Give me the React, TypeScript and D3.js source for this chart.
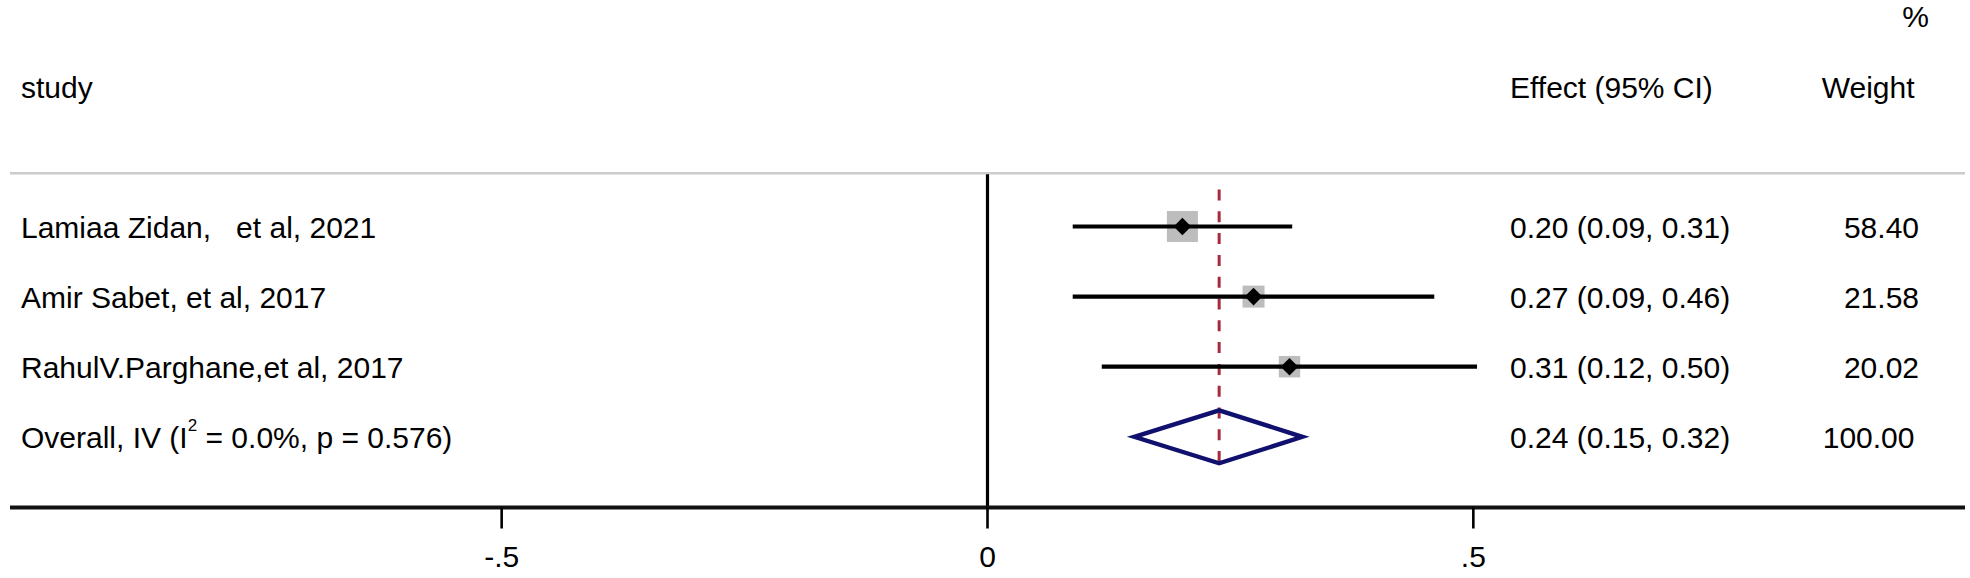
import React from "react";
import * as d3 from "d3";

const studies = ["Lamiaa Zidan,   et al, 2021", "Amir Sabet, et al, 2017", "RahulV.Parghane,et al, 2017"];
const effects = [0.2006, 0.2738, 0.3108];
const lowers = [0.0877, 0.0877, 0.1176];
const uppers = [0.3136, 0.4598, 0.5038];
const weights = [58.4, 21.58, 20.02];
const effectLabels = ["0.20 (0.09, 0.31)", "0.27 (0.09, 0.46)", "0.31 (0.12, 0.50)"];
const weightLabels = ["58.40", "21.58", "20.02"];

const overallEffect = 0.2384;
const overallLower = 0.151;
const overallUpper = 0.324;
const overallEffectLabel = "0.24 (0.15, 0.32)";
const overallWeightLabel = "100.00";

const tickValues = [-0.5, 0, 0.5];
const tickLabels = ["-.5", "0", ".5"];

const W = 1970;
const H = 578;
const FONT = "'Liberation Sans', Arial, Helvetica, sans-serif";

export default function App() {
  const x = d3.scaleLinear().domain([-1.006, 1.006]).range([10, 1965]);
  const y = d3.scaleLinear().domain([0, 3]).range([226.5, 436.8]);
  const size = d3.scalePow().exponent(0.345).domain([0, 58.4]).range([0, 31]);

  const axisY = 507.5;
  const headerY = 98;
  const sepY = 173.3;
  const leftX = 21;
  const effX = 1510;
  const wX = 1919;

  const diamondHalf = 8.8;
  const ovHalfH = 26.5;
  const ovY = y(3);
  const ovPath = d3.line()([
    [x(overallLower), ovY],
    [x(overallEffect), ovY - ovHalfH],
    [x(overallUpper), ovY],
    [x(overallEffect), ovY + ovHalfH],
  ]) + "Z";

  return (
    <svg width={W} height={H} style={{ position: "absolute", left: 0, top: 0, background: "#fff" }} fontFamily={FONT} fontSize={30}>
      <rect x={0} y={0} width={W} height={H} fill="#fff" />
      {/* headers */}
      <text x={1929} y={26.7} textAnchor="end" fill="#000">%</text>
      <text x={leftX} y={headerY} fill="#000">study</text>
      <text x={effX} y={headerY} fill="#000">Effect (95% CI)</text>
      <text x={1914.5} y={headerY} textAnchor="end" fill="#000">Weight</text>
      <line x1={10} x2={1965} y1={sepY} y2={sepY} stroke="#cccccc" strokeWidth={2.5} />

      {/* zero line */}
      <line x1={x(0)} x2={x(0)} y1={sepY + 1} y2={axisY} stroke="#000" strokeWidth={3.2} />

      {/* overall dashed line */}
      <line x1={x(overallEffect)} x2={x(overallEffect)} y1={189.5} y2={472} stroke="#a8283c" strokeWidth={3} strokeDasharray="11 10.8" />

      {/* studies */}
      {studies.map((s, i) => {
        const cy = y(i);
        const cx = x(effects[i]);
        const sz = size(weights[i]);
        return (
          <g key={s}>
            <rect x={cx - sz / 2} y={cy - sz / 2} width={sz} height={sz} fill="#bdbdbd" />
            <line x1={x(lowers[i])} x2={x(uppers[i])} y1={cy} y2={cy} stroke="#000" strokeWidth={4.2} />
            <path
              d={d3.line()([[cx - diamondHalf, cy], [cx, cy - diamondHalf], [cx + diamondHalf, cy], [cx, cy + diamondHalf]]) + "Z"}
              fill="#000"
            />
            <text x={leftX} y={cy + 11.5} fill="#000" style={{ whiteSpace: "pre" }}>{s}</text>
            <text x={effX} y={cy + 11.5} fill="#000">{effectLabels[i]}</text>
            <text x={wX} y={cy + 11.5} textAnchor="end" fill="#000">{weightLabels[i]}</text>
          </g>
        );
      })}

      {/* overall */}
      <path d={ovPath} fill="none" stroke="#10106e" strokeWidth={4.4} strokeLinejoin="miter" />
      <text x={leftX} y={ovY + 11.5} fill="#000">
        Overall, IV (I<tspan fontSize={17} dy={-17}>2</tspan><tspan dy={17}> = 0.0%, p = 0.576)</tspan>
      </text>
      <text x={effX} y={ovY + 11.5} fill="#000">{overallEffectLabel}</text>
      <text x={1914.5} y={ovY + 11.5} textAnchor="end" fill="#000">{overallWeightLabel}</text>

      {/* axis */}
      <line x1={10} x2={1965} y1={axisY} y2={axisY} stroke="#111" strokeWidth={3.8} />
      {tickValues.map((t, i) => (
        <g key={t}>
          <line x1={x(t)} x2={x(t)} y1={axisY} y2={528.5} stroke="#000" strokeWidth={2.6} />
          <text x={x(t)} y={567.3} textAnchor="middle" fill="#000">{tickLabels[i]}</text>
        </g>
      ))}
    </svg>
  );
}
